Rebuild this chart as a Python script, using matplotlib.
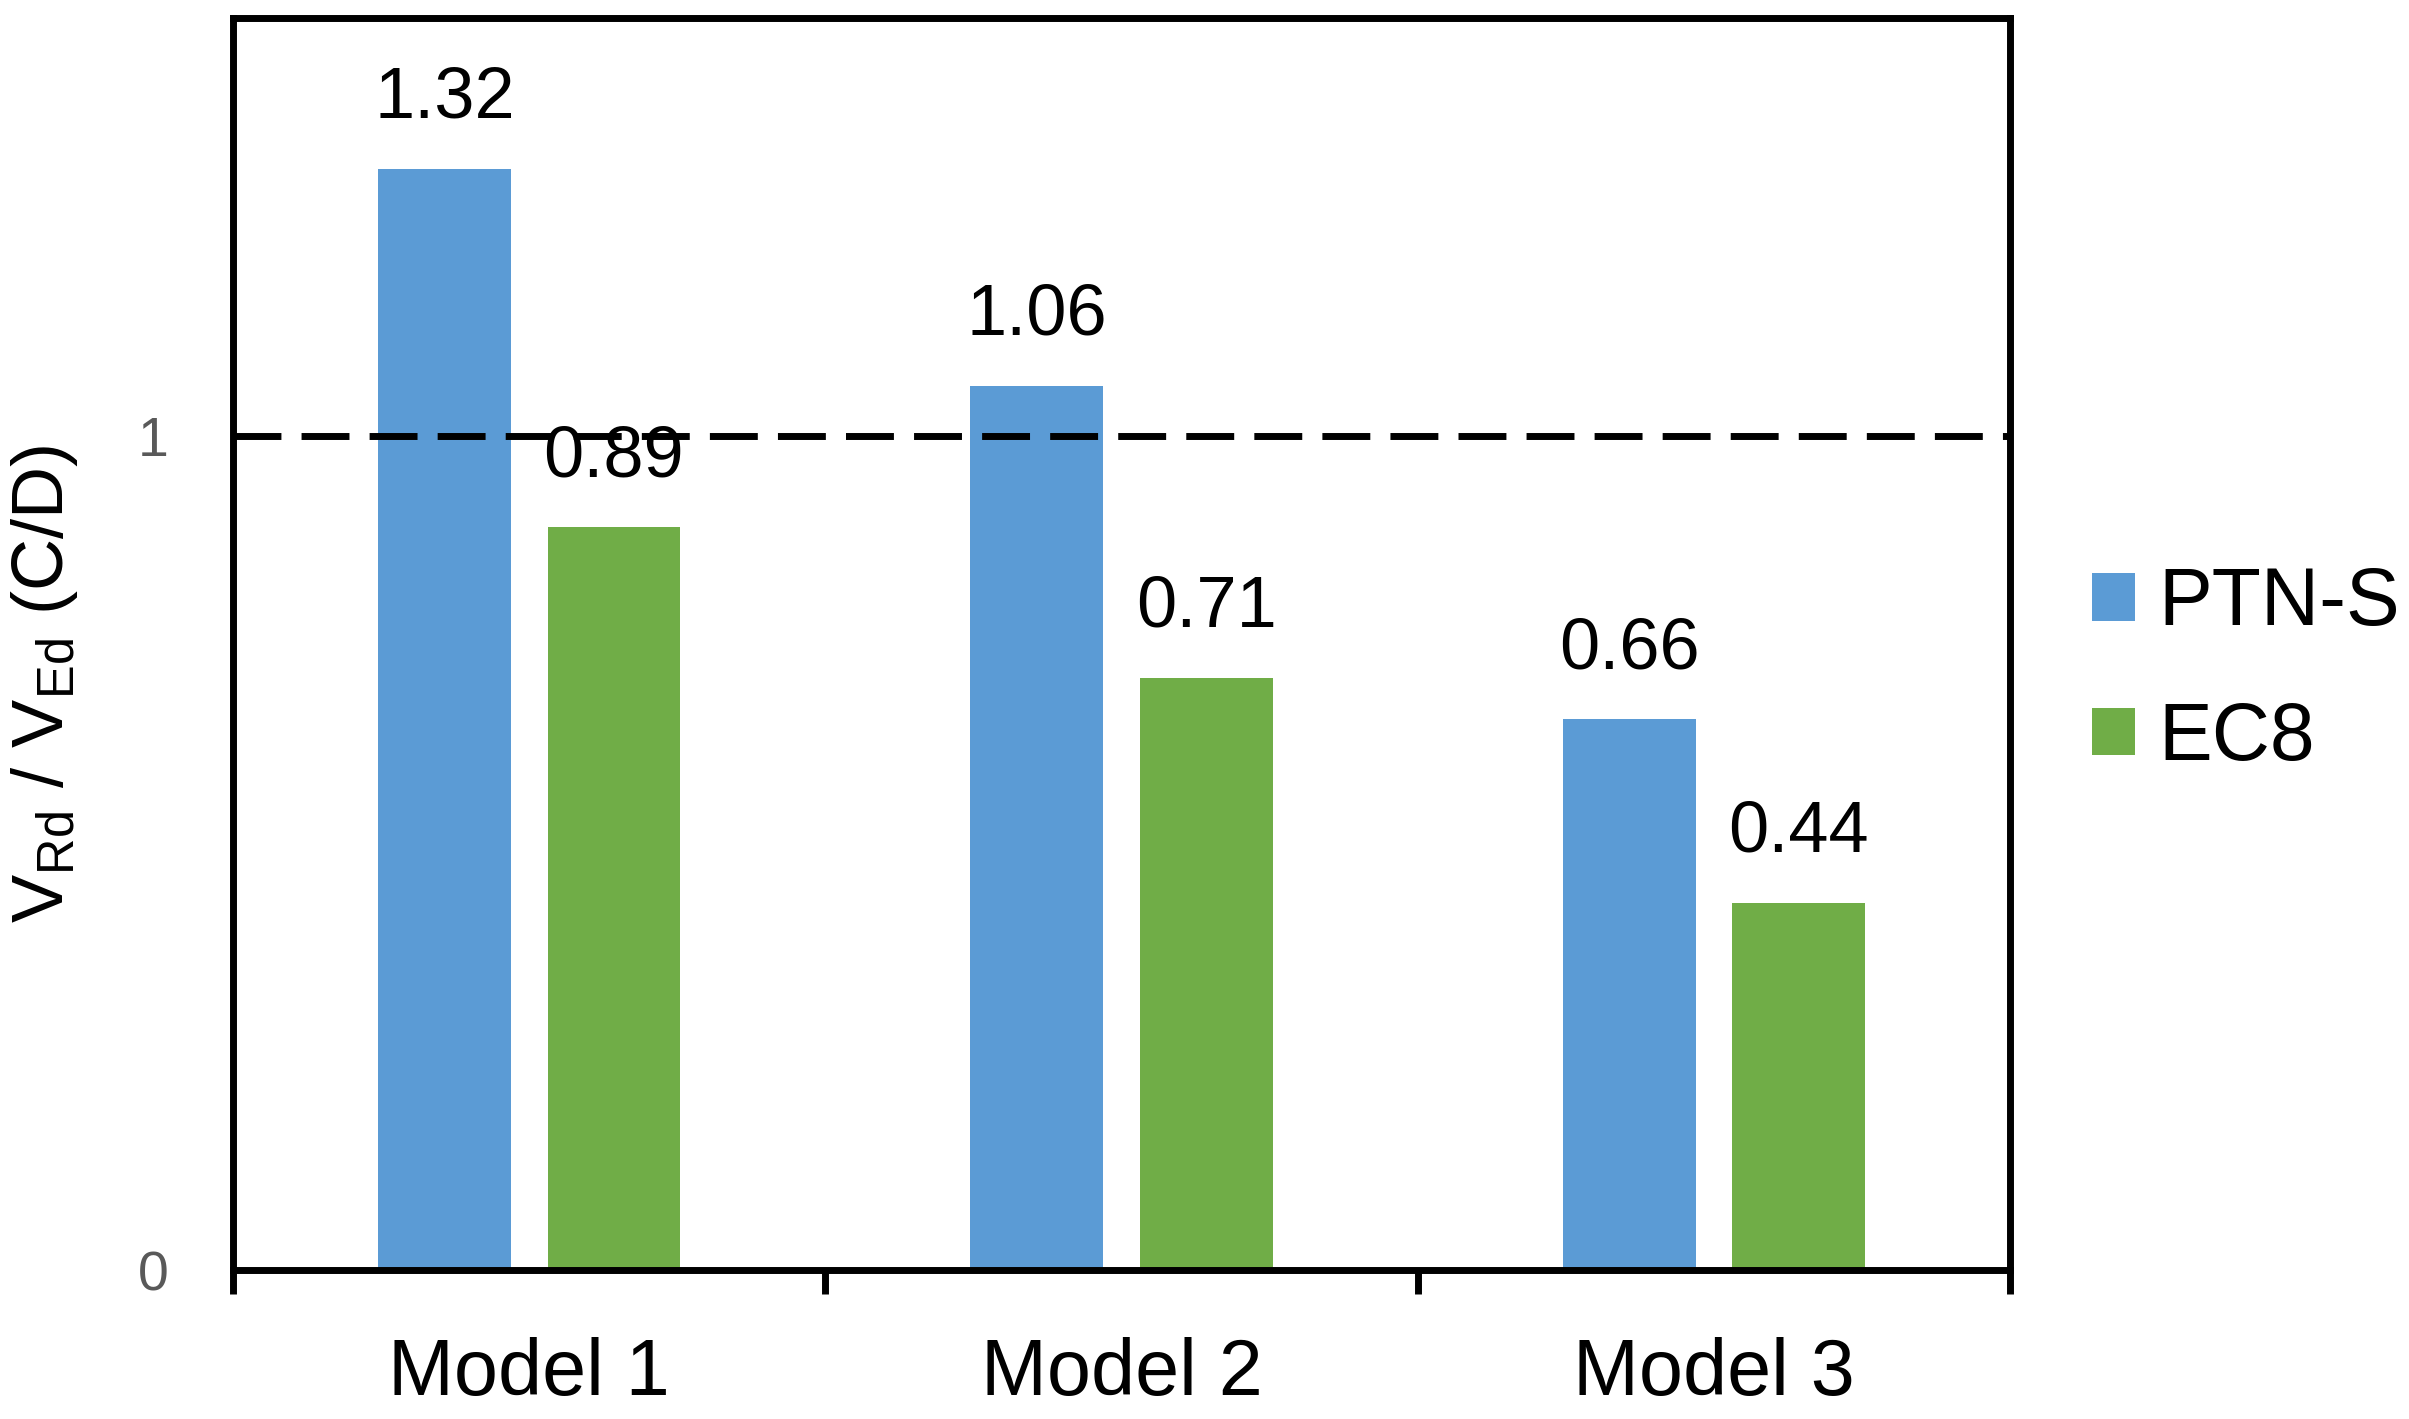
import numpy as np
import matplotlib
matplotlib.use("Agg")
import matplotlib.pyplot as plt

plt.rcParams['font.family'] = ['Liberation Sans', 'DejaVu Sans']
plt.rcParams['mathtext.fontset'] = 'custom'
plt.rcParams['mathtext.rm'] = 'Liberation Sans'

# datos
modelos = ['Model 1', 'Model 2', 'Model 3']
ptn_s = [1.32, 1.06, 0.66]
ec8 = [0.89, 0.71, 0.44]
series = ['PTN-S', 'EC8']
colores = ['#5B9BD5', '#70AD47']

fig = plt.figure(figsize=(24.09, 14.19), dpi=100)
ax = fig.add_axes([0.0967, 0.105, 0.7377, 0.882])

x = np.arange(1, len(modelos) + 1)
ancho = 0.224
desp = 0.143

b1 = ax.bar(x - desp, ptn_s, ancho, color=colores[0], label=series[0], zorder=2)
b2 = ax.bar(x + desp, ec8, ancho, color=colores[1], label=series[1], zorder=2)

# etiquetas de valores
for barras, vals in [(b1, ptn_s), (b2, ec8)]:
    for r, v in zip(barras, vals):
        ax.annotate(f'{v:.2f}', (r.get_x() + r.get_width() / 2, v),
                    xytext=(0, 26), textcoords='offset points',
                    ha='center', va='bottom', fontsize=52, zorder=3)

# linea discontinua en 1
ax.axhline(1, color='black', lw=5, dashes=(6.9, 2.9), zorder=3)

ax.set_xlim(0.5, 3.5)
ax.set_ylim(0, 1.5)

ax.set_xticks([0.5, 1.5, 2.5, 3.5])
ax.set_xticklabels([])
ax.set_xticks(x, minor=True)
ax.set_xticklabels(modelos, minor=True, fontsize=57)
ax.tick_params(axis='x', which='major', length=17, width=5, direction='out')
ax.tick_params(axis='x', which='minor', length=0, pad=48)

ax.set_yticks([0, 1])
ax.set_yticklabels(['0', '1'], fontsize=40, color='#595959')
ax.tick_params(axis='y', length=0, pad=46)

for s in ax.spines.values():
    s.set_linewidth(5)

ax.set_ylabel(r'$\mathregular{V_{Rd}}$ / $\mathregular{V_{Ed}}$ (C/D)', fontsize=52)
ax.yaxis.set_label_coords(-0.086, 0.468)

ax.legend(loc='center left', bbox_to_anchor=(1.0462, 0.478), frameon=False,
          fontsize=58, handlelength=0.533, handleheight=0.533,
          handletextpad=0.285, labelspacing=0.73, borderpad=0, borderaxespad=0)

fig.savefig('out.png', dpi=100)
